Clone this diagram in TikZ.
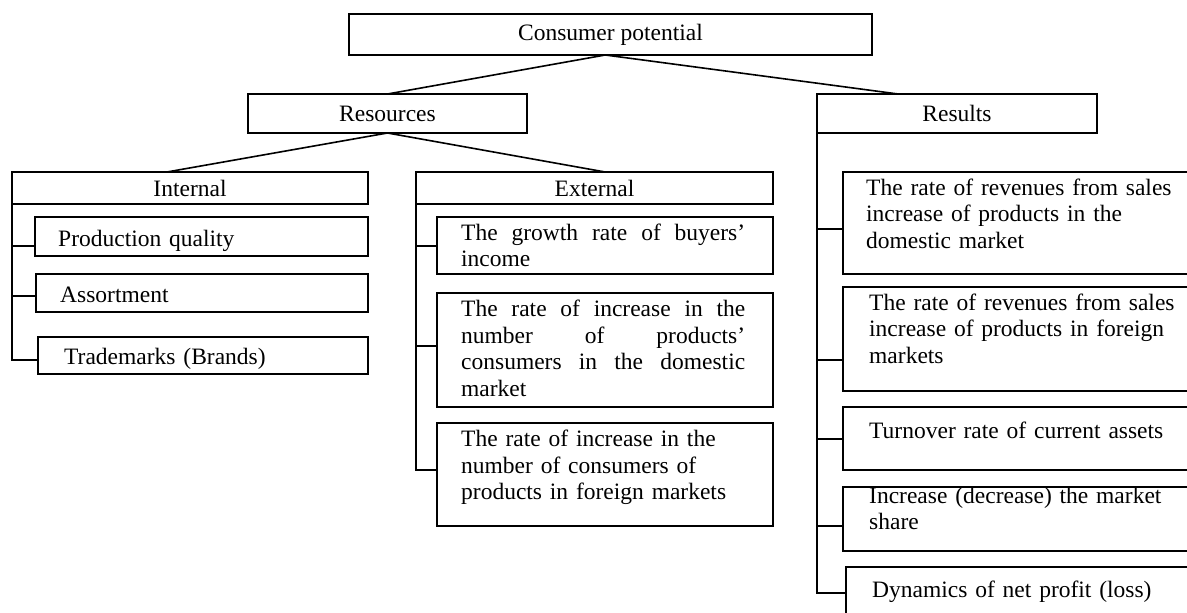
\documentclass[tikz,border=0pt]{standalone}
\usepackage{fontspec}
\setmainfont{Liberation Serif}
\usetikzlibrary{calc}
\newcommand{\jline}[1]{\leavevmode\hbox to 284pt{#1}}
\begin{document}
\begin{tikzpicture}[x=1pt,y=-1pt,
  bx/.style={draw, line width=1.6pt, inner sep=0pt, outer sep=0pt, anchor=north west, font=\fontsize{23.5}{26.7}\selectfont},
  tx/.style={inner sep=0pt, anchor=base west, align=left, text width=330pt, font=\fontsize{23.5}{26.7}\selectfont},
  ln/.style={line width=1.6pt}]
\useasboundingbox (0,0) rectangle (1187,613);
\clip (0,0) rectangle (1187,613);
% top level boxes
\node[bx, minimum width=523pt, minimum height=41pt] (top) at (349,14) {Consumer potential};
\node[bx, minimum width=279pt, minimum height=39pt] (res) at (248,94) {Resources};
\node[bx, minimum width=280pt, minimum height=39pt] (rsl) at (817,94) {Results};
\node[bx, minimum width=356pt, minimum height=32pt] (int) at (12,172) {Internal};
\node[bx, minimum width=357pt, minimum height=32pt] (ext) at (416,172) {External};
% internal children
\node[bx, minimum width=333pt, minimum height=39pt] (i1) at (35,217) {};
\node[bx, minimum width=332pt, minimum height=38pt] (i2) at (36,274) {};
\node[bx, minimum width=330pt, minimum height=37pt] (i3) at (38,337) {};
\node[tx] (i1t) at (58,246) {Production quality};
\node[tx] (i2t) at (60,302) {Assortment};
\node[tx] (i3t) at (64,364) {Trademarks (Brands)};
% external children
\node[bx, minimum width=336pt, minimum height=57pt] (e1) at (437,217) {};
\node[bx, minimum width=336pt, minimum height=114pt] (e2) at (437,293) {};
\node[bx, minimum width=336pt, minimum height=103pt] (e3) at (437,423) {};
\node[tx] (e1t) at (461,240) {\jline{The\hfill growth\hfill rate\hfill of\hfill buyers'}\\income};
\node[tx] (e2t) at (461,316.5) {\jline{The\hfill rate\hfill of\hfill increase\hfill in\hfill the}\\\jline{number\hfill of\hfill products'}\\\jline{consumers\hfill in\hfill the\hfill domestic}\\market};
\node[tx] (e3t) at (461,446.5) {The rate of increase in the\\number of consumers of\\products in foreign markets};
% results children
\node[bx, minimum width=360pt, minimum height=102pt] (r1) at (843,172) {};
\node[bx, minimum width=360pt, minimum height=104pt] (r2) at (843,287) {};
\node[bx, minimum width=360pt, minimum height=63pt] (r3) at (843,407) {};
\node[bx, minimum width=360pt, minimum height=64pt] (r4) at (843,487) {};
\node[bx, minimum width=360pt, minimum height=60pt] (r5) at (846,567) {};
\node[tx] (r1t) at (866,195) {The rate of revenues from sales\\increase of products in the\\domestic market};
\node[tx] (r2t) at (869,310) {The rate of revenues from sales\\increase of products in foreign\\markets};
\node[tx] (r3t) at (869,438) {Turnover rate of current assets};
\node[tx] (r4t) at (869,503) {Increase (decrease) the market\\share};
\node[tx] (r5t) at (872,597) {Dynamics of net profit (loss)};
% connectors
\coordinate (topb) at ($(top.south west)!0.49!(top.south east)$);
\draw[ln] (topb) -- (res.north);
\draw[ln] (topb) -- ($(rsl.north west)!0.29!(rsl.north east)$);
\draw[ln] (res.south) -- ($(int.north west)!0.435!(int.north east)$);
\draw[ln] (res.south) -- ($(ext.north west)!0.53!(ext.north east)$);
% branches
\draw[ln] (int.south west) |- (i3.west |- 0,360);
\draw[ln] (int.south west |- 0,246) -- (i1.west |- 0,246);
\draw[ln] (int.south west |- 0,296) -- (i2.west |- 0,296);
\draw[ln] (ext.south west) |- (e3.west |- 0,470);
\draw[ln] (ext.south west |- 0,246) -- (e1.west |- 0,246);
\draw[ln] (ext.south west |- 0,346) -- (e2.west |- 0,346);
\draw[ln] (rsl.south west) |- (r5.west |- 0,593);
\draw[ln] (rsl.south west |- 0,229) -- (r1.west |- 0,229);
\draw[ln] (rsl.south west |- 0,360) -- (r2.west |- 0,360);
\draw[ln] (rsl.south west |- 0,439) -- (r3.west |- 0,439);
\draw[ln] (rsl.south west |- 0,526) -- (r4.west |- 0,526);
\end{tikzpicture}
\end{document}
